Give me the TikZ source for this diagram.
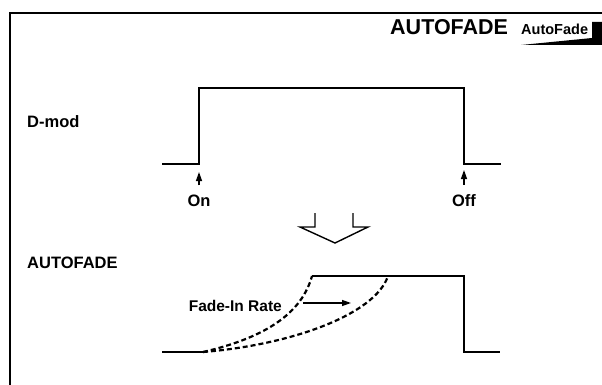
\documentclass[tikz,border=0pt]{standalone}
\usepackage{fontspec}
\setmainfont{Liberation Sans}
\usetikzlibrary{arrows.meta,positioning}

\begin{document}
\begin{tikzpicture}[
  x=1pt, y=-1pt,
  lbl/.style={font=\bfseries\fontsize{16.5}{18}\selectfont, inner sep=0pt},
  heading/.style={font=\bfseries\fontsize{21.5}{24}\selectfont, inner sep=0pt},
  badge/.style={font=\bfseries\fontsize{14.5}{16}\selectfont, inner sep=0pt},
  wave/.style={line width=2.6pt},
  fade/.style={line width=2.2pt, dash pattern=on 5pt off 3pt},
  arr/.style={-{Triangle[length=9pt,width=6pt]}, line width=1.3pt}
]
  \useasboundingbox (0,0) rectangle (602,385);

  % frame
  \draw[line width=1.8pt] (10,385) -- (10,13) -- (602,13);

  % heading and badge
  \node[heading, anchor=base west] (title) at (390,35) {AUTOFADE};
  \fill (521,45) -- (602,45) -- (602,22) -- (592,22) -- (592,38) -- cycle;
  \node[badge, anchor=base west] (tab) at (521,35) {AutoFade};

  % row labels
  \node[lbl, anchor=base west] (dmod) at (27,128) {D-mod};
  \node[lbl, anchor=base west] (afade) at (27,268) {AUTOFADE};

  % D-mod waveform
  \coordinate (on)  at (199,164);
  \coordinate (off) at (464,164);
  \draw[wave] (162,164) -- (on) -- (199,88) -- (464,88) -- (off) -- (501,164);

  % On / Off markers
  \node[lbl, anchor=base] (onlbl)  at (199,206) {On};
  \node[lbl, anchor=base] (offlbl) at (464,206) {Off};
  \coordinate (ontip)  at (199,172);
  \coordinate (offtip) at (464,170);
  \draw[arr] ([yshift=9pt]onlbl.north)  -- (ontip);
  \draw[arr] ([yshift=9pt]offlbl.north) -- (offtip);

  % hollow arrow
  \draw[line width=1.4pt, line join=miter]
    (315,213) -- (315,227) -- (300,227) -- (335,243) -- (368,227) -- (353,227) -- (353,213);

  % AUTOFADE waveform
  \coordinate (start) at (203,352);
  \coordinate (fast)  at (312,276);
  \coordinate (slow)  at (388,276);
  \draw[wave] (162,352) -- (start);
  \draw[wave] (fast) -- (464,276) -- (464,352) -- (500,352);
  \draw[fade] (start) .. controls (268,337) and (302,312) .. (fast);
  \draw[fade] (start) .. controls (290,345) and (375,315) .. (slow);

  % rate label
  \node[lbl, font=\bfseries\fontsize{15.5}{17}\selectfont, anchor=base east] (rate) at (282,311) {Fade-In Rate};
  \coordinate (ratetip) at (351,303);
  \draw[arr] ([xshift=21pt]rate.east |- ratetip) -- (ratetip);
\end{tikzpicture}
\end{document}
